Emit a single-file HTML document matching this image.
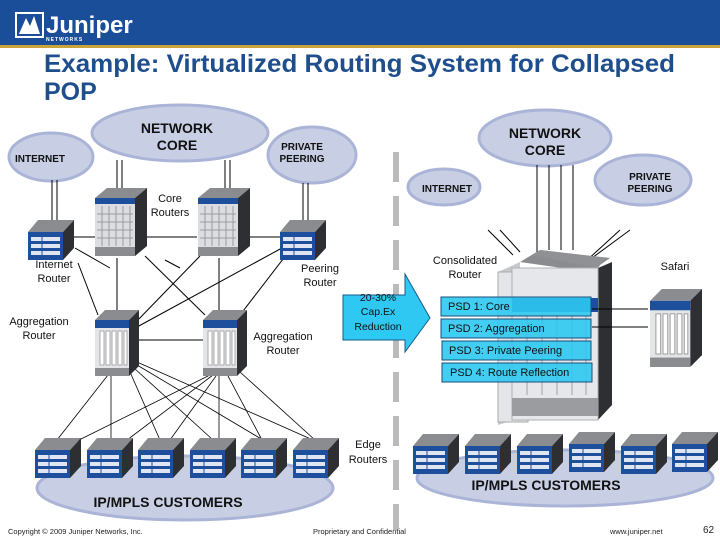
<!DOCTYPE html>
<html><head><meta charset="utf-8"><style>
html,body{margin:0;padding:0;background:#fff;}
svg{display:block;font-family:"Liberation Sans",sans-serif;}
</style></head><body>
<svg width="720" height="540" viewBox="0 0 720 540" xmlns="http://www.w3.org/2000/svg">
<defs>
<symbol id="er" viewBox="0 0 46 42" overflow="visible">
<polygon points="0,14 10,2 46,2 35,14" fill="#8a8c90"/>
<polygon points="35,14 46,2 46,30 35,42" fill="#2e2f33"/>
<rect x="0" y="14" width="35" height="28" fill="#1d4f9c"/>
<rect x="3" y="19" width="29" height="4" fill="#dfe6f2"/>
<rect x="3" y="26" width="29" height="4" fill="#dfe6f2"/>
<rect x="3" y="33" width="29" height="4" fill="#dfe6f2"/>
<line x1="14" y1="18" x2="14" y2="38" stroke="#1d4f9c" stroke-width="1"/>
</symbol>
<symbol id="ch" viewBox="0 0 52 68" overflow="visible">
<polygon points="0,10 12,0 52,0 40,10" fill="#8a8c90"/>
<polygon points="40,10 52,0 52,58 40,68" fill="#2e2f33"/>
<rect x="0" y="10" width="40" height="58" fill="#dcdde0"/>
<rect x="0" y="10" width="40" height="6" fill="#1d4f9c"/>
<g stroke="#9a9ca2" stroke-width="1">
<line x1="7" y1="18" x2="7" y2="58"/><line x1="14" y1="18" x2="14" y2="58"/><line x1="21" y1="18" x2="21" y2="58"/><line x1="28" y1="18" x2="28" y2="58"/><line x1="35" y1="18" x2="35" y2="58"/>
<line x1="2" y1="26" x2="38" y2="26"/><line x1="2" y1="34" x2="38" y2="34"/><line x1="2" y1="42" x2="38" y2="42"/><line x1="2" y1="50" x2="38" y2="50"/>
</g>
<rect x="0" y="59" width="40" height="9" fill="#8a8c90"/>
</symbol>
<symbol id="ag" viewBox="0 0 44 66" overflow="visible">
<polygon points="0,10 10,0 44,0 34,10" fill="#8a8c90"/>
<polygon points="34,10 44,0 44,56 34,66" fill="#2e2f33"/>
<rect x="0" y="10" width="34" height="56" fill="#e4e5e8"/>
<rect x="0" y="10" width="34" height="8" fill="#1d4f9c"/>
<g fill="#fff" stroke="#999" stroke-width="0.8">
<rect x="5" y="21" width="4" height="34"/><rect x="11" y="21" width="4" height="34"/><rect x="17" y="21" width="4" height="34"/><rect x="23" y="21" width="4" height="34"/><rect x="29" y="21" width="3" height="34"/>
</g>
<rect x="0" y="58" width="34" height="8" fill="#8a8c90"/>
</symbol>
</defs>

<!-- header -->
<rect x="0" y="0" width="720" height="45" fill="#1b4e99"/>
<rect x="0" y="45" width="720" height="3" fill="#c9a43a"/>
<rect x="16" y="13" width="27" height="24" fill="none" stroke="#fff" stroke-width="2"/>
<path d="M19 34 L26 18 L30 26 L34 16 L40 34 Z" fill="#fff"/>
<text x="46" y="33" font-size="24" font-weight="bold" fill="#fff">Juniper</text>
<text x="46" y="41" font-size="5" font-weight="bold" fill="#fff" letter-spacing="1">NETWORKS</text>

<text x="44" y="72" font-size="25" font-weight="bold" fill="#1f4e8c" textLength="631" lengthAdjust="spacingAndGlyphs">Example: Virtualized Routing System for Collapsed</text>
<text x="44" y="100" font-size="25" font-weight="bold" fill="#1f4e8c">POP</text>

<!-- clouds -->
<g fill="#c8cfe5" stroke="#aab4d6" stroke-width="3">
<ellipse cx="51" cy="157" rx="42" ry="24"/>
<ellipse cx="180" cy="133" rx="88" ry="28"/>
<ellipse cx="312" cy="155" rx="44" ry="28"/>
<ellipse cx="545" cy="138" rx="66" ry="28"/>
<ellipse cx="444" cy="187" rx="36" ry="18"/>
<ellipse cx="643" cy="180" rx="48" ry="25"/>
<ellipse cx="185" cy="488" rx="148" ry="32"/>
<ellipse cx="565" cy="478" rx="148" ry="28"/>
</g>
<g fill="#c8cfe5">
<ellipse cx="51" cy="157" rx="39" ry="21"/>
<ellipse cx="180" cy="133" rx="85" ry="25"/>
<ellipse cx="312" cy="155" rx="41" ry="25"/>
<ellipse cx="545" cy="138" rx="63" ry="25"/>
<ellipse cx="444" cy="187" rx="33" ry="15"/>
<ellipse cx="643" cy="180" rx="45" ry="22"/>
<ellipse cx="185" cy="488" rx="145" ry="29"/>
<ellipse cx="565" cy="478" rx="145" ry="25"/>
</g>
<g font-weight="bold" fill="#111" text-anchor="middle">
<text x="177" y="133" font-size="14">NETWORK</text><text x="177" y="150" font-size="14">CORE</text>
<text x="40" y="162" font-size="10">INTERNET</text>
<text x="302" y="150" font-size="10">PRIVATE</text><text x="302" y="162" font-size="10">PEERING</text>
<text x="545" y="138" font-size="14">NETWORK</text><text x="545" y="155" font-size="14">CORE</text>
<text x="447" y="192" font-size="10">INTERNET</text>
<text x="650" y="180" font-size="10">PRIVATE</text><text x="650" y="192" font-size="10">PEERING</text>
<text x="168" y="507" font-size="14">IP/MPLS CUSTOMERS</text>
<text x="546" y="490" font-size="14">IP/MPLS CUSTOMERS</text>
</g>

<line x1="396" y1="152" x2="396" y2="530" stroke="#bbbbbb" stroke-width="6" stroke-dasharray="30,14"/>

<g stroke="#000" stroke-width="1" fill="none">
<line x1="52" y1="180" x2="52" y2="222"/><line x1="57" y1="180" x2="57" y2="222"/>
<line x1="117" y1="160" x2="117" y2="193"/><line x1="122" y1="160" x2="122" y2="193"/>
<line x1="225" y1="160" x2="225" y2="193"/><line x1="230" y1="160" x2="230" y2="193"/>
<line x1="303" y1="183" x2="303" y2="222"/><line x1="308" y1="183" x2="308" y2="222"/>
<line x1="73" y1="237" x2="96" y2="237"/><line x1="146" y1="237" x2="197" y2="237"/><line x1="249" y1="237" x2="281" y2="237"/>
<line x1="75" y1="248" x2="110" y2="268"/><line x1="78" y1="263" x2="98" y2="315"/>
<line x1="117" y1="258" x2="117" y2="312"/><line x1="145" y1="256" x2="205" y2="315"/>
<line x1="200" y1="256" x2="135" y2="323"/><line x1="219" y1="258" x2="219" y2="312"/>
<line x1="290" y1="250" x2="240" y2="315"/><line x1="282" y1="248" x2="137" y2="327"/>
<line x1="137" y1="340" x2="203" y2="340"/>
<line x1="180" y1="268" x2="165" y2="260"/>
</g>
<g stroke="#000" stroke-width="0.8">
<line x1="108" y1="375" x2="57" y2="440"/><line x1="111" y1="375" x2="111" y2="440"/><line x1="130" y1="372" x2="160" y2="440"/><line x1="134" y1="368" x2="213" y2="440"/><line x1="137" y1="365" x2="263" y2="440"/><line x1="137" y1="362" x2="313" y2="440"/>
<line x1="210" y1="375" x2="75" y2="442"/><line x1="213" y1="375" x2="127" y2="440"/><line x1="216" y1="376" x2="170" y2="440"/><line x1="219" y1="376" x2="219" y2="440"/><line x1="228" y1="376" x2="262" y2="440"/><line x1="240" y1="372" x2="315" y2="440"/>
</g>

<use href="#ch" x="95" y="188" width="52" height="68"/>
<use href="#ch" x="198" y="188" width="52" height="68"/>
<use href="#er" x="28" y="218" width="46" height="42"/>
<use href="#er" x="280" y="218" width="46" height="42"/>
<use href="#ag" x="95" y="310" width="44" height="66"/>
<use href="#ag" x="203" y="310" width="44" height="66"/>
<use href="#er" x="35" y="436" width="46" height="42"/>
<use href="#er" x="87" y="436" width="46" height="42"/>
<use href="#er" x="138" y="436" width="46" height="42"/>
<use href="#er" x="190" y="436" width="46" height="42"/>
<use href="#er" x="241" y="436" width="46" height="42"/>
<use href="#er" x="293" y="436" width="46" height="42"/>

<g stroke="#000" stroke-width="1">
<line x1="488" y1="230" x2="513" y2="255"/><line x1="500" y1="230" x2="520" y2="252"/>
<line x1="537" y1="165" x2="537" y2="252"/><line x1="549" y1="165" x2="549" y2="250"/><line x1="561" y1="165" x2="561" y2="250"/><line x1="573" y1="165" x2="573" y2="250"/>
<line x1="620" y1="230" x2="585" y2="262"/><line x1="630" y1="230" x2="592" y2="258"/>
</g>

<polygon points="520,262 540,250 610,258 590,272" fill="#8a8c90"/>
<polygon points="498,272 520,262 520,418 498,425" fill="#c7c8cc"/>
<rect x="498" y="272" width="30" height="150" fill="#e4e5e8" stroke="#aaa"/>
<polygon points="532,255 540,250 605,258 598,268" fill="#8f9195"/>
<polygon points="598,268 612,262 612,405 598,420" fill="#2e2f33"/>
<rect x="512" y="268" width="86" height="152" fill="#e6e7ea" stroke="#b0b0b4"/>
<rect x="512" y="298" width="86" height="14" fill="#1d4f9c"/>
<g stroke="#a0a2a6"><line x1="527" y1="315" x2="527" y2="395"/><line x1="542" y1="315" x2="542" y2="395"/><line x1="557" y1="315" x2="557" y2="395"/><line x1="572" y1="315" x2="572" y2="395"/><line x1="586" y1="315" x2="586" y2="395"/></g>
<rect x="512" y="398" width="86" height="18" fill="#9a9ca0"/>
<line x1="592" y1="309" x2="648" y2="309" stroke="#000"/>
<line x1="592" y1="327" x2="648" y2="327" stroke="#000"/>
<use href="#ag" x="650" y="283" width="52" height="90"/>

<polygon points="343,295 405,295 405,274 430,318 405,352 405,340 343,340" fill="#2ec8f2" stroke="#1a5a8a" stroke-width="1"/>
<g font-size="10.5" fill="#111" text-anchor="middle">
<text x="378" y="301">20-30%</text><text x="378" y="315">Cap.Ex</text><text x="378" y="330">Reduction</text>
</g>

<g fill="#2ec8f2" fill-opacity="0.9" stroke="#1a4f7a" stroke-width="1">
<rect x="441" y="297" width="150" height="19"/>
<rect x="441" y="319" width="150" height="19"/>
<rect x="442" y="341" width="149" height="19"/>
<rect x="442" y="363" width="150" height="19"/>
</g>
<g font-size="11" fill="#111">
<text x="448" y="310">PSD 1: Core</text>
<text x="448" y="332">PSD 2: Aggregation</text>
<text x="449" y="354">PSD 3: Private Peering</text>
<text x="450" y="376">PSD 4: Route Reflection</text>
</g>

<use href="#er" x="413" y="432" width="46" height="42"/>
<use href="#er" x="465" y="432" width="46" height="42"/>
<use href="#er" x="517" y="432" width="46" height="42"/>
<use href="#er" x="569" y="430" width="46" height="42"/>
<use href="#er" x="621" y="432" width="46" height="42"/>
<use href="#er" x="672" y="430" width="46" height="42"/>

<g font-size="11" fill="#111" text-anchor="middle">
<text x="170" y="202">Core</text><text x="170" y="216">Routers</text>
<text x="54" y="268">Internet</text><text x="54" y="282">Router</text>
<text x="320" y="272">Peering</text><text x="320" y="286">Router</text>
<text x="39" y="325">Aggregation</text><text x="39" y="339">Router</text>
<text x="283" y="340">Aggregation</text><text x="283" y="354">Router</text>
<text x="465" y="264">Consolidated</text><text x="465" y="278">Router</text>
<text x="675" y="270">Safari</text>
<text x="368" y="448">Edge</text><text x="368" y="463">Routers</text>
</g>

<g font-size="7.5" fill="#222">
<text x="8" y="534">Copyright © 2009 Juniper Networks, Inc.</text>
<text x="313" y="534">Proprietary and Confidential</text>
<text x="610" y="534">www.juniper.net</text>
</g>
<text x="703" y="533" font-size="10" fill="#222">62</text>
</svg>
</body></html>
